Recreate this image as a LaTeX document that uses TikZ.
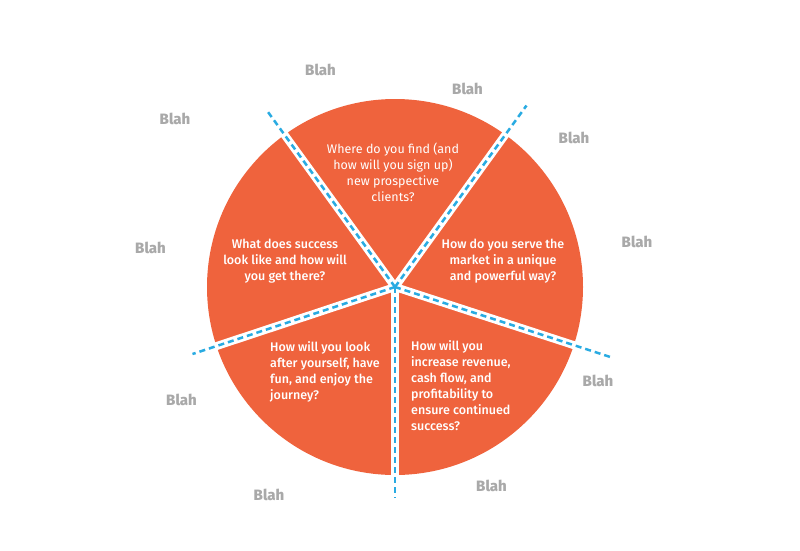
\documentclass[tikz,border=0pt]{standalone}
\usepackage{fontspec}
\setmainfont{Fira Sans}
\newfontfamily\medfont{Fira Sans Medium}
\definecolor{pieorange}{HTML}{EF633D}
\definecolor{dashblue}{HTML}{29ABE2}
\definecolor{blahgray}{HTML}{A9A9A9}
\begin{document}
\begin{tikzpicture}[x=1pt,y=-1pt,
  gapline/.style={white,line width=8pt},
  dashline/.style={dashblue,line width=2.5pt,dash pattern=on 6pt off 4pt},
  qtext/.style={text=white,inner sep=0pt,font=\medfont\fontsize{12.5}{16}\selectfont},
  qtextreg/.style={text=white,inner sep=0pt,font=\fontsize{12.5}{16}\selectfont},
  blah/.style={text=blahgray,inner sep=0pt,font=\medfont\bfseries\fontsize{15}{18}\selectfont}]
\useasboundingbox (0,0) rectangle (800,550);
\coordinate (C) at (395,287);
\coordinate (e1) at (268,112);
\coordinate (e2) at (526.5,105.5);
\coordinate (e3) at (612.8,357.8);
\coordinate (e4) at (395,498);
\coordinate (e5) at (192.5,354);
\fill[pieorange] (C) circle (188);
\foreach \e in {e1,e2,e3,e4,e5} \draw[gapline] (C) -- (\e);
\foreach \e in {e1,e2,e3,e4,e5} \draw[dashline] (C) -- (\e);
\node[qtextreg,align=center] (q1) at (393,172.5) {Where do you find (and\\how will you sign up)\\new prospective\\clients?};
\node[qtext,align=center] (q2) at (503,261.5) {How do you serve the\\market in a unique\\and powerful way?};
\node[qtext,align=center] (q5) at (285,261.5) {What does success\\look like and how will\\you get there?};
\node[qtext,align=left,anchor=west] (q4) at (270,372) {How will you look\\after yourself, have\\fun, and enjoy the\\journey?};
\node[qtext,align=left,anchor=west] (q3) at (411,385.5) {How will you\\increase revenue,\\cash flow, and\\profitability to\\ensure continued\\success?};
\node[blah] (b1) at (320.5,69.5) {Blah};
\node[blah] (b2) at (467.5,89) {Blah};
\node[blah] (b3) at (574,138) {Blah};
\node[blah] (b4) at (637,242) {Blah};
\node[blah] (b5) at (598,381) {Blah};
\node[blah] (b6) at (491.5,485.5) {Blah};
\node[blah] (b7) at (269,495) {Blah};
\node[blah] (b8) at (181.5,400) {Blah};
\node[blah] (b9) at (150.5,248) {Blah};
\node[blah] (b10) at (175,119) {Blah};
\end{tikzpicture}
\end{document}
